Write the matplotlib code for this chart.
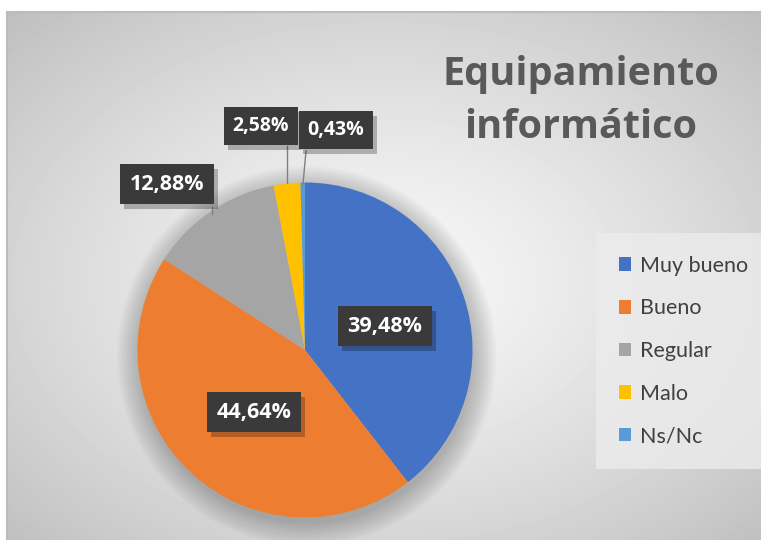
import numpy as np
import matplotlib
matplotlib.use('Agg')
import matplotlib.pyplot as plt
from matplotlib.patches import Circle

# data
categories = ['Muy bueno', 'Bueno', 'Regular', 'Malo', 'Ns/Nc']
values = [39.48, 44.64, 12.88, 2.58, 0.43]
colors = ['#4472C4', '#ED7D31', '#A5A5A5', '#FFC000', '#5B9BD5']
title = 'Equipamiento\ninformático'

plt.rcParams['font.family'] = ['Lato', 'DejaVu Sans']
BOLD = ['Open Sans', 'DejaVu Sans']

W, H = 761, 540
fig = plt.figure(figsize=(W / 100, H / 100), dpi=100, facecolor='white')

# chart area with radial gradient
bg = fig.add_axes([7 / W, 0, (W - 7) / W, (H - 12) / H])
yy, xx = np.mgrid[0:528, 0:754]
cx, cy = 377, 270
r = np.sqrt(((xx - cx) / 754) ** 2 + ((yy - cy) / 528) ** 2) / 0.707
shade = 0.97 - 0.22 * r ** 1.3
bg.imshow(shade, cmap='gray', vmin=0, vmax=1, aspect='auto', interpolation='bilinear')
bg.set_xticks([])
bg.set_yticks([])
for s in ['right', 'bottom']:
    bg.spines[s].set_visible(False)
for s in ['top', 'left']:
    bg.spines[s].set_color('#bcbcbc')
    bg.spines[s].set_linewidth(1.5)

# pie axes, centre at (305, 350) px, radius 167.5 px
R = 167.5
px, py = 305, H - 350
ax = fig.add_axes([(px - 2 * R) / W, (py - 2 * R) / H, 4 * R / W, 4 * R / H])

# soft shadow under the pie
for i in range(12):
    ax.add_patch(Circle((0.01, -0.035), 1.0 + i * 0.012, color='black',
                        alpha=0.02, lw=0, zorder=0))

wedges, _ = ax.pie(values, colors=colors, startangle=90, counterclock=False,
                   radius=1.0, wedgeprops=dict(linewidth=0))
for w in wedges:
    w.set_zorder(2)
ax.set_xlim(-2, 2)
ax.set_ylim(-2, 2)
ax.axis('off')

labels = [f'{v:.2f}%'.replace('.', ',') for v in values]

def box_text(x, y, s, fs=15.5):
    # shadow
    ax.text(x + 0.025, y - 0.03, s, ha='center', va='center', fontsize=fs,
            fontweight='bold', family=BOLD, color=(0, 0, 0, 0), zorder=4,
            bbox=dict(boxstyle='square,pad=0.45', fc='black', ec='none', alpha=0.25))
    ax.text(x, y, s, ha='center', va='center', fontsize=fs, fontweight='bold',
            family=BOLD, color='white', zorder=5,
            bbox=dict(boxstyle='square,pad=0.45', fc='#3a3a3a', ec='none'))

# inside labels
box_text(80 / R, 24 / R, labels[0])
box_text(-51 / R, -62 / R, labels[1])

# outside labels with leader lines
box_text(-138 / R, 166 / R, labels[2])
ax.plot([-93 / R, -93 / R], [143 / R, 136 / R], color='#808080', lw=1, zorder=3)
box_text(-44 / R, 224 / R, labels[3], fs=14)
ax.plot([-18 / R, -18 / R], [204 / R, 167 / R], color='#808080', lw=1, zorder=3)
box_text(31 / R, 220 / R, labels[4], fs=14)
ax.plot([1 / R, -2 / R], [199 / R, 166 / R], color='#808080', lw=1, zorder=3)

fig.text(581 / W, 1 - 101 / H, title, ha='center', va='center', fontsize=28.5,
         fontweight='bold', family=BOLD, color='#595959', linespacing=1.45)

leg = fig.legend(wedges, categories, loc='center',
                 bbox_to_anchor=(0.898, 1 - 351 / H), frameon=True,
                 fontsize=15.5, handlelength=0.6, handleheight=0.6,
                 handletextpad=0.4, labelspacing=1.05, borderpad=0.75,
                 borderaxespad=0)
leg.get_frame().set_facecolor('#ececec')
leg.get_frame().set_edgecolor('none')
leg.get_frame().set_alpha(0.8)
leg.get_frame().set_boxstyle('square')
for t in leg.get_texts():
    t.set_color('#404040')

fig.savefig('out.png', dpi=100)
